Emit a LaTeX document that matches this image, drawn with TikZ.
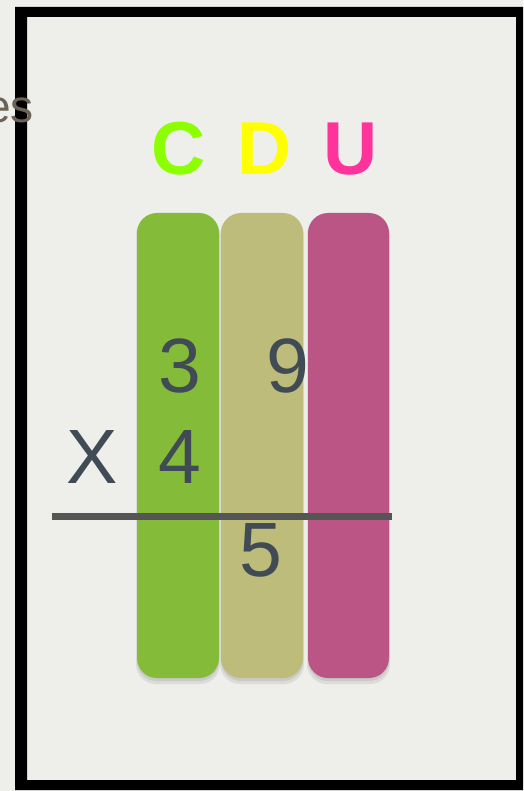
\documentclass[tikz,border=0pt]{standalone}
\usepackage{fontspec}
\setmainfont{Liberation Sans}
\definecolor{paper}{HTML}{EEEEEA}
\definecolor{barC}{HTML}{84BB38}
\definecolor{barD}{HTML}{BDBC7A}
\definecolor{barU}{HTML}{BA5585}
\definecolor{letC}{HTML}{8CFF00}
\definecolor{letD}{HTML}{FFFF00}
\definecolor{letU}{HTML}{FF3399}
\definecolor{digit}{HTML}{404B55}
\definecolor{rule}{HTML}{555555}
\definecolor{estext}{HTML}{6B6357}
\tikzset{
  bar/.style={rounded corners=20pt, minimum width=82pt, minimum height=465pt, inner sep=0pt},
  barshadow/.style={rounded corners=20pt, fill=black, fill opacity=0.08, draw=none},
  head/.style={font=\fontsize{75}{75}\selectfont\bfseries, anchor=base, inner sep=0pt},
  num/.style={font=\fontsize{77}{77}\selectfont, text=digit, anchor=base, inner sep=0pt}
}
\begin{document}
\begin{tikzpicture}[x=1pt,y=-1pt]
\useasboundingbox (0,0) rectangle (523,791);
\fill[paper] (0,0) rectangle (523,791);
% frame
\fill[black, even odd rule] (15,7) rectangle (523,790) (27,17) rectangle (516,780);
% header letter
\node[font=\fontsize{46}{46}\selectfont, text=estext, anchor=base east, inner sep=0pt] (es) at (34,123) {es};
% shadows
\foreach \cx/\w in {178/82, 262/82, 348.5/81}{
  \fill[barshadow] (\cx-\w/2-1,215) rectangle (\cx+\w/2+1,684);
  \fill[barshadow] (\cx-\w/2,214) rectangle (\cx+\w/2,681);
}
% bars
\node[bar, fill=barC] (bC) at (178,445.5) {};
\node[bar, fill=barD] (bD) at (262,445.5) {};
\node[bar, fill=barU, minimum width=81pt] (bU) at (348.5,445.5) {};
% headings
\node[head, text=letC] (C) at (179,175) {C};
\node[head, text=letD] (D) at (265,175) {D};
\node[head, text=letU] (U) at (351,175) {U};
% digits
\node[num] (n3) at (180,392) {3};
\node[num] (n9) at (287.5,392) {9};
\node[num] (nX) at (92.5,483) {X};
\node[num] (n4) at (179.5,483) {4};
% rule
\coordinate (rl) at (52,516);
\coordinate (rr) at (392,516);
\draw[rule, line width=7pt] (rl) -- (rr);
\node[num] (n5) at (261,576) {5};
\end{tikzpicture}
\end{document}
